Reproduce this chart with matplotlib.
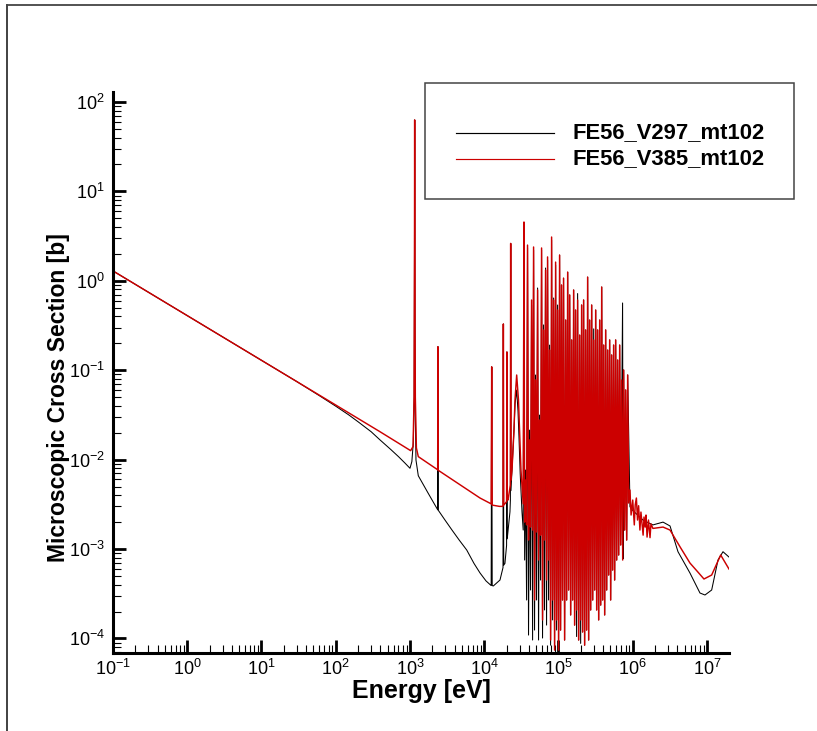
import matplotlib
matplotlib.use("Agg")
import matplotlib.pyplot as plt
from matplotlib.lines import Line2D
from matplotlib.patches import Rectangle
from matplotlib.ticker import FixedLocator, LogLocator, NullFormatter, LogFormatterSciNotation

plt.rcParams['font.family'] = ['Liberation Sans', 'DejaVu Sans']
plt.rcParams['mathtext.fontset'] = 'custom'
plt.rcParams['mathtext.rm'] = 'Liberation Sans'
plt.rcParams['mathtext.it'] = 'Liberation Sans:italic'
plt.rcParams['mathtext.bf'] = 'Liberation Sans:bold'
plt.rcParams['path.simplify'] = False

series_labels = ["FE56_V297_mt102", "FE56_V385_mt102"]
series_colors = ["#000000", "#cc0000"]
x_label = "Energy [eV]"
y_label = "Microscopic Cross Section [b]"
x_major_ticks = [1e-1, 1e0, 1e1, 1e2, 1e3, 1e4, 1e5, 1e6, 1e7]
y_major_ticks = [1e-4, 1e-3, 1e-2, 1e-1, 1e0, 1e1, 1e2]

# ---------------- FE56_V297_mt102 (black) ----------------
v297_low_E = [0.1, 1.0, 10, 30, 60, 100, 150, 200, 300, 395, 550, 700, 850, 1000, 1060, 1108,
              1140, 1150, 1156, 1162, 1172, 1204, 1294, 1746, 2360, 2380, 2400, 2960, 3680,
              4600, 5808, 7280, 8770, 10560, 12400, 12600, 12800, 13250, 16300, 17900, 18100,
              18300, 19000, 20000, 20200, 20400, 22200, 22500, 22700, 22900, 25160, 26000,
              27350, 28500, 29380, 30500, 32250, 33500]
v297_low_xs = [1.29, 0.408, 0.129, 0.0745, 0.052, 0.0396, 0.0316, 0.0265, 0.0205, 0.0166,
               0.0130, 0.0108, 0.0092, 0.0080, 0.0095, 0.0155, 0.05, 2.0, 63, 2.0, 0.05, 0.0099,
               0.0066, 0.00425, 0.00275, 0.183, 0.00272, 0.00211, 0.00163, 0.00126, 0.000975,
               0.00069, 0.00054, 0.00044, 0.00039, 0.109, 0.00039, 0.000386, 0.00045, 0.00062,
               0.329, 0.00066, 0.00069, 0.0011, 0.160, 0.0013, 0.0026, 0.0035, 2.62, 0.0045,
               0.0214, 0.042, 0.060, 0.035, 0.0178, 0.007, 0.0026, 0.00163]
v297_peak_E = [34.3e3, 36e3, 38.3e3, 40.8e3, 43.4e3, 46.2e3, 49.1e3, 52.3e3, 55.6e3, 59.2e3,
               63e3, 67e3, 71.3e3, 75.9e3, 80.8e3, 86e3, 91.5e3, 97.3e3, 103.5e3, 110e3,
               117e3, 125e3, 133e3, 141.5e3, 150.5e3, 160e3, 170e3, 181e3, 193e3, 205e3,
               218e3, 232e3, 247e3, 263e3, 280e3, 298e3, 317e3, 337e3, 359e3, 382e3,
               406e3, 432e3, 460e3, 489e3, 520e3, 553e3, 589e3, 627e3, 667e3, 730e3,
               755e3, 803e3, 855e3]
v297_peak_xs = [4.21, 0.00765, 2.33, 0.0214, 0.536, 2.21, 0.0884, 0.831, 0.0315, 2.21,
                0.321, 1.39, 1.71, 0.191, 2.86, 0.642, 1.50, 0.536, 1.94, 0.897,
                1.07, 0.364, 1.25, 0.694, 0.218, 0.789, 0.471, 0.72, 0.247, 0.536,
                0.61, 0.282, 1.10, 0.364, 0.536, 0.29, 0.471, 0.282, 0.364, 0.852,
                0.191, 0.282, 0.168, 0.218, 0.148, 0.191, 0.218, 0.130, 0.191, 0.565,
                0.1005, 0.0601, 0.0884]
v297_valley_E = [35.0e3, 37.2e3, 39.5e3, 42.0e3, 44.8e3, 47.6e3, 50.6e3, 53.9e3, 57.3e3, 61.0e3,
                 64.9e3, 69.1e3, 73.5e3, 78.3e3, 83.3e3, 88.6e3, 94.3e3, 100.3e3, 106.7e3, 113.4e3,
                 120.9e3, 128.8e3, 137e3, 145.9e3, 155.2e3, 164.9e3, 175.4e3, 186.9e3, 198.9e3,
                 211.4e3, 225e3, 239.4e3, 254.9e3, 271.4e3, 288.9e3, 307.4e3, 326.9e3, 347.9e3,
                 370.4e3, 393.9e3, 418.9e3, 445.9e3, 474.4e3, 504.4e3, 536.4e3, 570.9e3, 607.9e3,
                 646.9e3, 688.4e3, 742e3, 778.9e3, 828.9e3]
v297_valley_xs = [0.000753, 0.000269, 0.000109, 0.000348, 9.6e-5, 0.000124, 0.000269, 9.6e-5,
                  0.00045, 0.000101, 0.000208, 0.000141, 0.000269, 8.4e-5, 0.000161, 7.8e-5,
                  0.000124, 7.8e-5, 0.000124, 0.000269, 9.6e-5, 0.000269, 0.000348, 0.000183,
                  0.000269, 0.000141, 0.000105, 9.6e-5, 0.000088, 0.000118, 8.4e-5, 0.000124,
                  9.6e-5, 0.000208, 0.000269, 0.000348, 0.000208, 0.000161, 0.000236, 0.000269,
                  0.000183, 0.000348, 0.000512, 0.000269, 0.000582, 0.00045, 0.000753, 0.000857,
                  0.00111, 0.00078, 0.00163, 0.00126]
v297_tail_E = [918e3, 1.0e6, 1.374e6, 1.87e6, 2.56e6, 3.18e6, 4.07e6, 5.90e6, 8.05e6, 9.40e6,
               1.157e7, 1.407e7, 1.643e7, 1.98e7]
v297_tail_xs = [0.00297, 0.0027, 0.00211, 0.00186, 0.00200, 0.00181, 0.000933, 0.000539,
                0.000322, 0.000306, 0.000348, 0.000753, 0.000933, 0.000813]

# ---------------- FE56_V385_mt102 (red) ----------------
v385_low_E = [0.1, 1.0, 10, 100, 395, 1020, 1100, 1135, 1150, 1156, 1162, 1180, 1220, 1294,
              2360, 2380, 2400, 5000, 8770, 12400, 12600, 12800, 16000, 17900, 18100, 18300,
              19500, 20000, 20200, 20400, 20900, 22500, 22700, 22900, 23640, 25160, 25950,
              27350, 28930, 31250, 33500]
v385_low_xs = [1.29, 0.408, 0.129, 0.0408, 0.0205, 0.0126, 0.0140, 0.05, 2.0, 63, 2.0, 0.05,
               0.0135, 0.0108, 0.0077, 0.183, 0.0076, 0.00507, 0.00372, 0.0032, 0.109, 0.0031,
               0.0030, 0.0030, 0.329, 0.0031, 0.0033, 0.0034, 0.160, 0.0036, 0.00353, 0.0052,
               2.62, 0.0059, 0.00765, 0.0214, 0.0464, 0.0884, 0.0464, 0.00765, 0.0032]
v385_peak_E = [34.3e3, 36e3, 38.3e3, 40.8e3, 43.4e3, 46.2e3, 49.1e3, 52.3e3, 55.6e3, 59.2e3,
               63e3, 67e3, 71.3e3, 75.9e3, 80.8e3, 86e3, 91.5e3, 97.3e3, 103.5e3, 110e3,
               117e3, 125e3, 133e3, 141.5e3, 150.5e3, 160e3, 170e3, 181e3, 193e3, 205e3,
               218e3, 232e3, 247e3, 263e3, 280e3, 298e3, 317e3, 337e3, 359e3, 382e3,
               406e3, 432e3, 460e3, 489e3, 520e3, 553e3, 589e3, 627e3, 667e3, 710e3,
               755e3, 803e3, 855e3]
v385_peak_xs = [4.55, 0.0059, 2.51, 0.0166, 0.61, 2.39, 0.078, 0.79, 0.0277, 2.33,
                0.282, 1.32, 1.85, 0.168, 3.09, 0.61, 1.62, 0.471, 1.94, 0.897,
                1.07, 0.364, 1.25, 0.694, 0.218, 0.789, 0.471, 0.61, 0.247, 0.536,
                0.61, 0.282, 1.10, 0.364, 0.536, 0.218, 0.471, 0.282, 0.364, 0.852,
                0.191, 0.282, 0.168, 0.218, 0.148, 0.191, 0.218, 0.130, 0.191, 0.0777,
                0.1005, 0.0601, 0.0884]
v385_valley_E = [35.0e3, 37.2e3, 39.5e3, 42.0e3, 44.8e3, 47.6e3, 50.6e3, 53.9e3, 57.3e3, 61.0e3,
                 64.9e3, 69.1e3, 73.5e3, 78.3e3, 83.3e3, 88.6e3, 94.3e3, 100.3e3, 106.7e3, 113.4e3,
                 120.9e3, 128.8e3, 137e3, 145.9e3, 155.2e3, 164.9e3, 175.4e3, 186.9e3, 198.9e3,
                 211.4e3, 225e3, 239.4e3, 254.9e3, 271.4e3, 288.9e3, 307.4e3, 326.9e3, 347.9e3,
                 370.4e3, 393.9e3, 418.9e3, 445.9e3, 474.4e3, 504.4e3, 536.4e3, 570.9e3, 607.9e3,
                 646.9e3, 688.4e3, 732.4e3, 778.9e3, 828.9e3]
v385_valley_xs = [0.0020, 0.00186, 0.00126, 0.00176, 0.00163, 0.000269, 0.00155, 0.000753,
                  0.00143, 0.000161, 0.00126, 0.00045, 0.000753, 9.6e-5, 0.000269, 7.4e-5,
                  0.000161, 7.4e-5, 0.000124, 0.000269, 9.6e-5, 0.000269, 0.000348, 0.000183,
                  0.000269, 0.000141, 0.000208, 9.6e-5, 0.000161, 0.000118, 8.4e-5, 0.000124,
                  9.6e-5, 0.000208, 0.000269, 0.000348, 0.000208, 0.000161, 0.000236, 0.000269,
                  0.000183, 0.000348, 0.000512, 0.000269, 0.000582, 0.00045, 0.000753, 0.000857,
                  0.00111, 0.000753, 0.00163, 0.00126]
v385_tail_E = [880e3, 918e3, 950e3, 1.00e6, 1.05e6, 1.08e6, 1.12e6, 1.16e6, 1.20e6, 1.25e6,
               1.29e6, 1.38e6, 1.42e6, 1.47e6, 1.51e6, 1.56e6, 1.63e6, 1.71e6, 1.76e6, 1.87e6,
               2.56e6, 3.18e6, 4.33e6, 5.90e6, 7.5e6, 9.11e6, 1.157e7, 1.53e7, 1.98e7]
v385_tail_xs = [0.00327, 0.00457, 0.0024, 0.00353, 0.00186, 0.00311, 0.00372, 0.00211, 0.00305,
                0.00163, 0.00259, 0.00143, 0.00228, 0.00176, 0.0024, 0.00136, 0.00211, 0.00134,
                0.00191, 0.00170, 0.00176, 0.00163, 0.00106, 0.000697, 0.000556, 0.000462,
                0.000512, 0.000857, 0.000597]

x_limits = (0.1, 1.98e7)
y_limits = (6.87e-5, 129.4)


def assemble(low_E, low_xs, peak_E, peak_xs, valley_E, valley_xs, tail_E, tail_xs):
    E = list(low_E)
    xs = list(low_xs)
    for i in range(len(peak_E)):
        E.append(peak_E[i]); xs.append(peak_xs[i])
        if i < len(valley_E):
            E.append(valley_E[i]); xs.append(valley_xs[i])
    E += list(tail_E)
    xs += list(tail_xs)
    return E, xs


black_E, black_xs = assemble(v297_low_E, v297_low_xs, v297_peak_E, v297_peak_xs,
                             v297_valley_E, v297_valley_xs, v297_tail_E, v297_tail_xs)
red_E, red_xs = assemble(v385_low_E, v385_low_xs, v385_peak_E, v385_peak_xs,
                         v385_valley_E, v385_valley_xs, v385_tail_E, v385_tail_xs)

W, H = 817, 731
fig = plt.figure(figsize=(W / 100, H / 100), dpi=100)
ax = fig.add_axes([113 / W, 1 - 653 / H, (729 - 113) / W, (653 - 92) / H])

ax.plot(black_E, black_xs, color=series_colors[0], lw=0.75, solid_joinstyle='round')
ax.plot(red_E, red_xs, color=series_colors[1], lw=1.05, solid_joinstyle='round')

ax.set_xscale('log')
ax.set_yscale('log')
ax.set_xlim(*x_limits)
ax.set_ylim(*y_limits)

for s in ['top', 'right']:
    ax.spines[s].set_visible(False)
for s in ['left', 'bottom']:
    ax.spines[s].set_linewidth(2.2)

ax.xaxis.set_major_locator(FixedLocator(x_major_ticks))
ax.yaxis.set_major_locator(FixedLocator(y_major_ticks))
ax.xaxis.set_major_formatter(LogFormatterSciNotation())
ax.yaxis.set_major_formatter(LogFormatterSciNotation())
ax.xaxis.set_minor_locator(LogLocator(base=10, subs=[2, 3, 4, 5, 6, 7, 8, 9], numticks=40))
ax.yaxis.set_minor_locator(LogLocator(base=10, subs=[2, 3, 4, 5, 6, 7, 8, 9], numticks=40))
ax.xaxis.set_minor_formatter(NullFormatter())
ax.yaxis.set_minor_formatter(NullFormatter())

ax.tick_params(which='major', direction='in', length=9.5, width=2.0, labelsize=13, color='black')
ax.tick_params(which='minor', direction='in', length=5.5, width=0.8, color='black')
ax.tick_params(axis='x', which='major', pad=4)
ax.tick_params(axis='y', which='major', pad=6)

ax.set_xlabel(x_label, fontsize=18, fontweight='bold')
ax.set_ylabel(y_label, fontsize=16.5, fontweight='bold')
ax.xaxis.set_label_coords(0.5, -0.046)
ax.yaxis.set_label_coords(-0.07, 0.456)


def fx(px):
    return px / W


def fy(py):
    return 1 - py / H


# legend box
fig.patches.append(Rectangle((fx(425), fy(199)), fx(794) - fx(425), fy(83) - fy(199),
                             transform=fig.transFigure, fill=False, edgecolor='#444444', lw=1.1))
for i, (lab, col) in enumerate(zip(series_labels, series_colors)):
    yy = [133, 159][i]
    fig.lines.append(Line2D([fx(456), fx(554)], [fy(yy), fy(yy)], transform=fig.transFigure,
                            color=col, lw=0.85))
    fig.text(fx(572), fy(yy), lab, fontsize=15.8, fontweight='bold', va='center', ha='left')

# outer frame (top and left)
fig.lines.append(Line2D([fx(7), fx(7)], [0, fy(5)], transform=fig.transFigure, color='#333333', lw=1.3))
fig.lines.append(Line2D([fx(7), 1], [fy(5), fy(5)], transform=fig.transFigure, color='#444444', lw=1.3))

fig.savefig("out.png", dpi=100)
